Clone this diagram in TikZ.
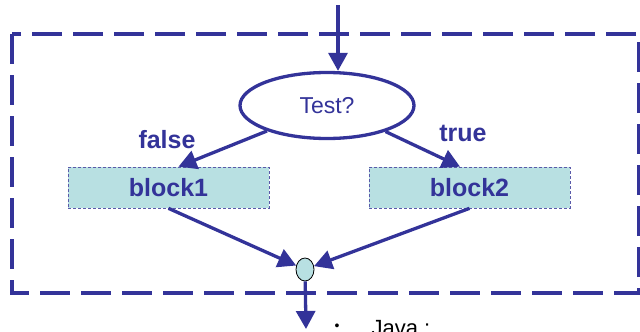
\documentclass[tikz,border=0pt]{standalone}
\usepackage{fontspec}
\setmainfont{Liberation Sans}
\usetikzlibrary{arrows.meta,shapes.geometric}
\definecolor{fc}{RGB}{51,51,153}
\definecolor{cy}{RGB}{184,224,226}
\definecolor{bd}{RGB}{90,90,170}
\begin{document}
\begin{tikzpicture}[x=1pt,y=-1pt,
  flow/.style={draw=fc,line width=3.3pt,-{Triangle[length=18pt,width=19pt]}},
  lbl/.style={text=fc,font=\fontsize{25}{25}\selectfont\bfseries},
  blockbox/.style={rectangle,draw=bd,densely dashed,line width=0.7pt,fill=cy,
    minimum width=201pt,minimum height=41pt,inner sep=0pt,
    text=fc,font=\fontsize{25}{25}\selectfont\bfseries}]
\useasboundingbox (0,0) rectangle (640,332);
\clip (0,0) rectangle (640,332);
\draw[fc,line width=3.3pt,dash pattern=on 30pt off 11pt] (12,34) rectangle (639,293);
\node[ellipse,draw=fc,line width=3.3pt,fill=white,minimum width=174pt,minimum height=66pt,inner sep=0pt,
  text=fc,font=\fontsize{23}{23}\selectfont] (test) at (327,105.5) {Test?};
\node[blockbox] (b1) at (168.5,187.5) {block1};
\node[blockbox] (b2) at (469.5,187.5) {block2};
\node[ellipse,draw=black,line width=0.8pt,fill=cy,minimum width=18pt,minimum height=23pt,inner sep=0pt] (j) at (305,269.5) {};
\coordinate (in) at (338,5);
\coordinate (out) at (306,329);
\draw[flow] (in) -- (in |- test.north);
\draw[flow] (test.203) -- ([xshift=10pt]b1.north);
\draw[flow] (test.336) -- ([xshift=-9.5pt]b2.north);
\draw[flow] (b1.south) -- (j);
\draw[flow] (b2.south) -- (j);
\draw[flow] (j) -- (out);
\node[lbl] (f) at (167,140) {false};
\node[lbl] (t) at (463,133) {true};
\node[font=\fontsize{14}{14}\selectfont] (bul) at (337,327) {•};
\node[anchor=base west,font=\fontsize{22}{22}\selectfont] (java) at (368,335) {Java :};
\end{tikzpicture}
\end{document}
